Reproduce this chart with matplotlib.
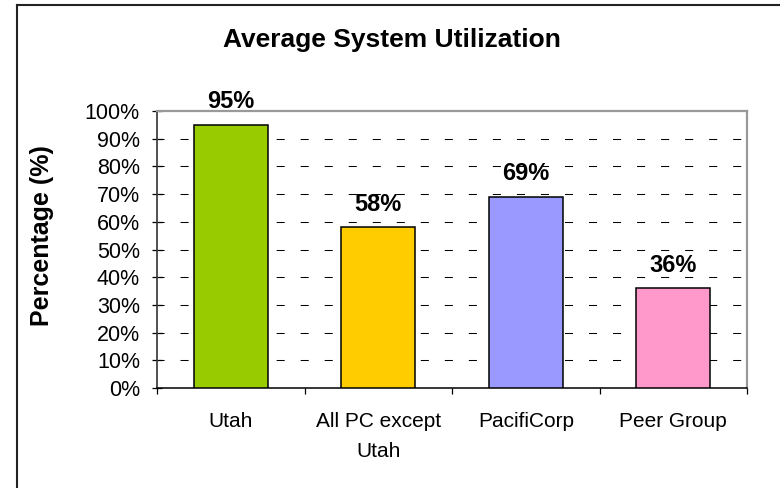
import matplotlib
matplotlib.use("Agg")
import matplotlib.pyplot as plt
from matplotlib.lines import Line2D
from matplotlib.ticker import FixedLocator, FuncFormatter

plt.rcParams["font.family"] = ["Liberation Sans", "DejaVu Sans"]
plt.rcParams["lines.scale_dashes"] = False

# data
categories = ["Utah", "All PC except\nUtah", "PacifiCorp", "Peer Group"]
utilization = [95, 58, 69, 36]
bar_colors = ["#99CC00", "#FFCC00", "#9999FF", "#FF99CC"]
y_ticks = list(range(0, 101, 10))

fig = plt.figure(figsize=(7.8, 4.88), dpi=100)
ax = fig.add_axes([157 / 780, 1 - 388 / 488, 590 / 780, 277 / 488])

x = range(len(categories))
ax.bar(x, utilization, width=0.5, color=bar_colors, edgecolor="black",
       linewidth=1.1, zorder=3)

for xi, v in zip(x, utilization):
    ax.annotate(f"{v}%", (xi, v), xytext=(0, 12), textcoords="offset points",
                ha="center", va="baseline", fontsize=17, fontweight="bold")

ax.set_xlim(-0.5, len(categories) - 0.5)
ax.set_ylim(0, 100)

# y axis
ax.set_yticks(y_ticks)
ax.yaxis.set_major_formatter(FuncFormatter(lambda v, p: f"{v:.0f}%"))
ax.tick_params(axis="y", direction="inout", length=6.5, width=0.9,
               labelsize=15.5, pad=9)

# x axis: labels at centres, ticks on category boundaries
ax.set_xticks(list(x))
ax.set_xticklabels(categories, linespacing=1.72)
ax.tick_params(axis="x", which="major", length=0, labelsize=15, pad=17.5)
ax.xaxis.set_minor_locator(FixedLocator([i - 0.5 for i in range(len(categories) + 1)]))
ax.tick_params(axis="x", which="minor", direction="out", length=4, width=0.9)

for tl in ax.get_xticklabels():
    tl.set_verticalalignment("top")

ax.set_ylabel("Percentage (%)", fontsize=18, fontweight="bold")
ax.yaxis.set_label_coords((54 - 157) / 590, (388 - 236) / 277)

# dashed gridlines
for v in y_ticks[1:-1]:
    ax.axhline(v, color="black", linewidth=0.75,
               linestyle=(0.72, (5.8, 11.5)), zorder=1)

for side in ("top", "right"):
    ax.spines[side].set_color("#999999")
    ax.spines[side].set_linewidth(1.6)
ax.spines["left"].set_color("#333333")
ax.spines["left"].set_linewidth(1.2)
ax.spines["bottom"].set_color("black")
ax.spines["bottom"].set_linewidth(1.1)

fig.text(392 / 780, 1 - 40 / 488, "Average System Utilization",
         ha="center", va="center", fontsize=19, fontweight="bold")

# outer chart border (left and top only, rest is cropped)
fig.add_artist(Line2D([17 / 780, 17 / 780], [0, 1 - 5 / 488],
                      transform=fig.transFigure, color="#222222", linewidth=1.5))
fig.add_artist(Line2D([17 / 780, 1], [1 - 5 / 488, 1 - 5 / 488],
                      transform=fig.transFigure, color="#222222", linewidth=1.5))

fig.savefig("out.png", dpi=100)
